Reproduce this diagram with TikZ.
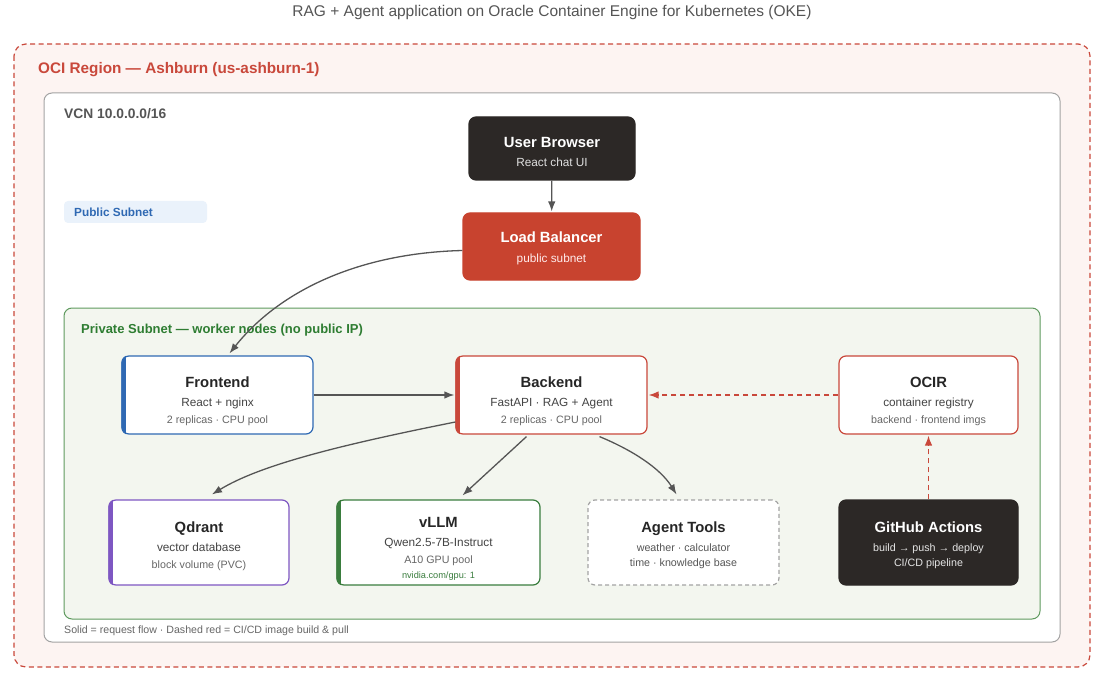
\documentclass[tikz,border=0pt]{standalone}
\usepackage{fontspec}
\setmainfont{Liberation Sans}
\usetikzlibrary{arrows.meta}

\definecolor{regionred}{HTML}{C9483B}
\definecolor{regionfill}{HTML}{FDF4F2}
\definecolor{vcngray}{HTML}{A3A3A3}
\definecolor{vcntext}{HTML}{555555}
\definecolor{darkbox}{HTML}{2C2826}
\definecolor{lbred}{HTML}{C8432F}
\definecolor{subgreen}{HTML}{5E9A5E}
\definecolor{subfill}{HTML}{F3F6EF}
\definecolor{subtext}{HTML}{2E7D32}
\definecolor{feblue}{HTML}{2F69B3}
\definecolor{tagfill}{HTML}{EAF2FB}
\definecolor{qdpurple}{HTML}{7E57C2}
\definecolor{llmgreen}{HTML}{3A7D3E}
\definecolor{flowgray}{HTML}{555555}
\definecolor{subgray}{HTML}{444444}
\definecolor{notegray}{HTML}{666666}

\newcommand\cardbar[2]{%
	\begin{scope}
		\clip[rounded corners=7pt] (#1.south west) rectangle (#1.north east);
		\fill[#2] (#1.south west) rectangle ([xshift=5pt]#1.north west);
	\end{scope}}

\tikzset{
	card/.style={draw, rounded corners=7pt, fill=white, line width=1.2pt, inner sep=0pt},
	darkcard/.style={card, draw=darkbox, fill=darkbox},
	ctitle/.style={anchor=base, inner sep=0pt, text=black!85,
		font=\fontsize{14.8}{16}\selectfont\bfseries},
	csub/.style={anchor=base, inner sep=0pt, text=subgray, font=\fontsize{11.8}{13}\selectfont},
	cnote/.style={anchor=base, inner sep=0pt, text=notegray, font=\fontsize{10.7}{12}\selectfont},
	flow/.style={draw=flowgray, line width=1.3pt, -{Latex[length=10pt,width=7.5pt]}},
	cicd/.style={draw=regionred, line width=1.3pt, dash pattern=on 5pt off 4pt,
		-{Latex[length=10pt,width=7.5pt]}},
}

\begin{document}
\begin{tikzpicture}[x=1pt, y=-1pt]
	%%%%% FRAME %%%%%
	\useasboundingbox (0,0) rectangle (1108,679);
	\node[text=vcntext, font=\fontsize{15.5}{17}\selectfont] (title) at (552,12)
		{RAG + Agent application on Oracle Container Engine for Kubernetes (OKE)};

	\draw[regionred, fill=regionfill, line width=1.2pt, dash pattern=on 5pt off 3.5pt,
		rounded corners=12pt] (14,44) rectangle (1090,667);
	\node[anchor=base west, inner sep=0pt, text=regionred, font=\fontsize{15.3}{17}\selectfont\bfseries]
		(region) at (38,74) {OCI Region — Ashburn (us-ashburn-1)};

	\draw[vcngray, fill=white, line width=1pt, rounded corners=8pt] (44,93) rectangle (1060,642);
	\node[anchor=base west, inner sep=0pt, text=vcntext, font=\fontsize{13.8}{15}\selectfont\bfseries]
		(vcn) at (64,119) {VCN 10.0.0.0/16};

	\fill[tagfill, rounded corners=4pt] (64,201) rectangle (207,223);
	\node[anchor=base west, inner sep=0pt, text=feblue, font=\fontsize{11.8}{13}\selectfont\bfseries]
		(pubtag) at (74,217) {Public Subnet};

	\draw[subgreen, fill=subfill, line width=1pt, rounded corners=8pt] (64,308) rectangle (1040,619);
	\node[anchor=base west, inner sep=0pt, text=subtext, font=\fontsize{13}{15}\selectfont\bfseries]
		(private) at (81,333) {Private Subnet — worker nodes (no public IP)};

	\node[anchor=base west, inner sep=0pt, text=notegray, font=\fontsize{10.6}{12}\selectfont]
		(legend) at (64,633) {Solid = request flow · Dashed red = CI/CD image build \& pull};

	%%%%% PUBLIC %%%%%
	\node[darkcard, minimum width=166pt, minimum height=63pt] (browser) at (552,148.5) {};
	\node[ctitle, text=white] (browser-t) at (552,148) {User Browser};
	\node[csub, text=white!88!black] (browser-s) at (552,167) {React chat UI};

	\node[darkcard, draw=lbred, fill=lbred, minimum width=177pt, minimum height=67pt]
		(lb) at (551.5,246.5) {};
	\node[ctitle, text=white] (lb-t) at (551.5,242.5) {Load Balancer};
	\node[csub, text=white!92!red] (lb-s) at (551.5,262.5) {public subnet};

	%%%%% WORKERS %%%%%
	\node[card, draw=feblue, minimum width=191pt, minimum height=78pt] (frontend) at (217.5,395) {};
	\cardbar{frontend}{feblue}
	\node[ctitle] (frontend-t) at (217.5,387) {Frontend};
	\node[csub] (frontend-s) at (217.5,406.5) {React + nginx};
	\node[cnote] (frontend-n) at (217.5,423) {2 replicas · CPU pool};

	\node[card, draw=regionred, minimum width=191pt, minimum height=78pt] (backend) at (551.5,395) {};
	\cardbar{backend}{regionred}
	\node[ctitle] (backend-t) at (551.5,387) {Backend};
	\node[csub] (backend-s) at (551.5,406.5) {FastAPI · RAG + Agent};
	\node[cnote] (backend-n) at (551.5,423) {2 replicas · CPU pool};

	\node[card, draw=regionred, minimum width=179pt, minimum height=78pt] (ocir) at (928.5,395) {};
	\node[ctitle] (ocir-t) at (928.5,387) {OCIR};
	\node[csub] (ocir-s) at (928.5,406.5) {container registry};
	\node[cnote] (ocir-n) at (928.5,423) {backend · frontend imgs};

	\node[card, draw=qdpurple, minimum width=180pt, minimum height=85pt] (qdrant) at (199,542.5) {};
	\cardbar{qdrant}{qdpurple}
	\node[ctitle] (qdrant-t) at (199,532) {Qdrant};
	\node[csub] (qdrant-s) at (199,551) {vector database};
	\node[cnote] (qdrant-n) at (199,568.5) {block volume (PVC)};

	\node[card, draw=llmgreen, minimum width=203pt, minimum height=85pt] (vllm) at (438.5,542.5) {};
	\cardbar{vllm}{llmgreen}
	\node[ctitle] (vllm-t) at (438.5,527) {vLLM};
	\node[csub] (vllm-s) at (438.5,546) {Qwen2.5-7B-Instruct};
	\node[cnote] (vllm-n) at (438.5,563.5) {A10 GPU pool};
	\node[cnote, text=llmgreen, font=\fontsize{9.2}{10}\selectfont] (vllm-g) at (438.5,578.5)
		{nvidia.com/gpu: 1};

	\node[card, draw=vcngray, dash pattern=on 4pt off 3pt, minimum width=191pt,
		minimum height=85pt] (tools) at (683.5,542.5) {};
	\node[ctitle] (tools-t) at (683.5,532.5) {Agent Tools};
	\node[cnote, text=vcntext] (tools-a) at (683.5,551) {weather · calculator};
	\node[cnote, text=vcntext] (tools-b) at (683.5,566.5) {time · knowledge base};

	\node[darkcard, minimum width=179pt, minimum height=85pt] (github) at (928.5,542.5) {};
	\node[ctitle, text=white] (github-t) at (928.5,532.5) {GitHub Actions};
	\node[cnote, text=white!90!black] (github-a) at (928.5,551) {build → push → deploy};
	\node[cnote, text=white!90!black] (github-b) at (928.5,566.5) {CI/CD pipeline};

	%%%%% CONNECTORS %%%%%
	\draw[flow, shorten >=1pt] (browser) -- (lb);
	\draw[flow] ([yshift=-4pt]lb.west) .. controls (360,253) and (280,290)
		.. ([xshift=12pt,yshift=2pt]frontend.north);
	\draw[flow, shorten >=1pt] (frontend) -- (backend);
	\draw[flow] ([yshift=-27pt]backend.west) .. controls (340,445) and (260,465)
		.. ([xshift=13pt,yshift=5pt]qdrant.north);
	\draw[flow] ([xshift=-25pt,yshift=-2pt]backend.south) -- ([xshift=24pt,yshift=4pt]vllm.north);
	\draw[flow] ([xshift=48pt,yshift=-2pt]backend.south) .. controls (632,450) and (660,468)
		.. ([xshift=-7pt,yshift=5pt]tools.north);
	\draw[cicd, shorten >=1pt] (ocir) -- (backend);
	\draw[cicd, shorten >=1pt] (github) -- (ocir);
\end{tikzpicture}
\end{document}
